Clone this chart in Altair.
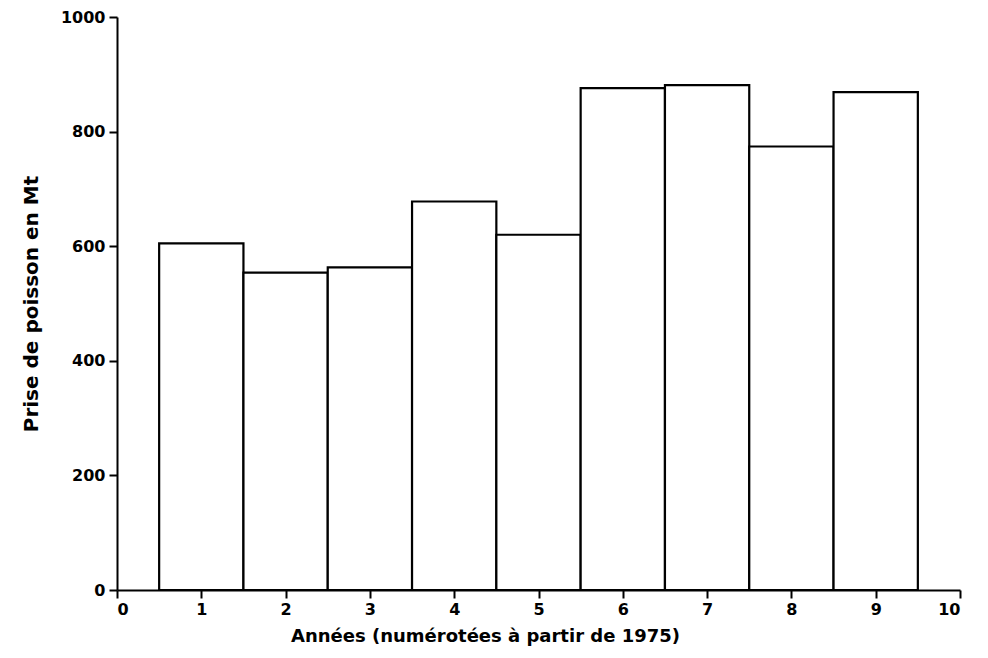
import altair as alt
import pandas as pd

annees = [1, 2, 3, 4, 5, 6, 7, 8, 9]
prises = [605, 554, 563, 678, 620, 876, 881, 774, 869]
x_ticks = [0, 1, 2, 3, 4, 5, 6, 7, 8, 9, 10]
y_ticks = [0, 200, 400, 600, 800, 1000]

df = pd.DataFrame({"annee": annees, "prise": prises})

font = "DejaVu Sans"

chart = alt.Chart(df).transform_calculate(
    debut="datum.annee - 0.5", fin="datum.annee + 0.5"
).mark_bar(fill="white", stroke="black", strokeWidth=2.2).encode(
    x=alt.X("debut:Q", scale=alt.Scale(domain=[0, 10], nice=False, zero=False),
            axis=alt.Axis(title="Années (numérotées à partir de 1975)", values=x_ticks,
                          format="d", labelOverlap=False, titleFontSize=18, titleX=368)),
    x2="fin:Q",
    y=alt.Y("prise:Q", scale=alt.Scale(domain=[0, 1000], nice=False),
            axis=alt.Axis(title="Prise de poisson en Mt", values=y_ticks, format="d",
                          labelOverlap=False, titleFontSize=20)),
    y2=alt.datum(0),
).properties(
    width=843, height=573,
    autosize=alt.AutoSizeParams(type="none"),
    padding={"left": 109, "top": 9, "right": 20, "bottom": 60},
).configure_view(stroke=None).configure_axis(
    grid=False,
    domainColor="black", domainWidth=2,
    tickColor="black", tickWidth=2, tickSize=8,
    labelFont=font, labelFontSize=16, labelColor="black", labelFontWeight="bold",
    titleFont=font, titleColor="black", titleFontWeight="bold",
    labelPadding=3,
).configure_axisY(titlePadding=19, labelPadding=4).configure_axisX(titlePadding=10)

chart.save("out.html", embed_options={"renderer": "svg", "actions": False})
